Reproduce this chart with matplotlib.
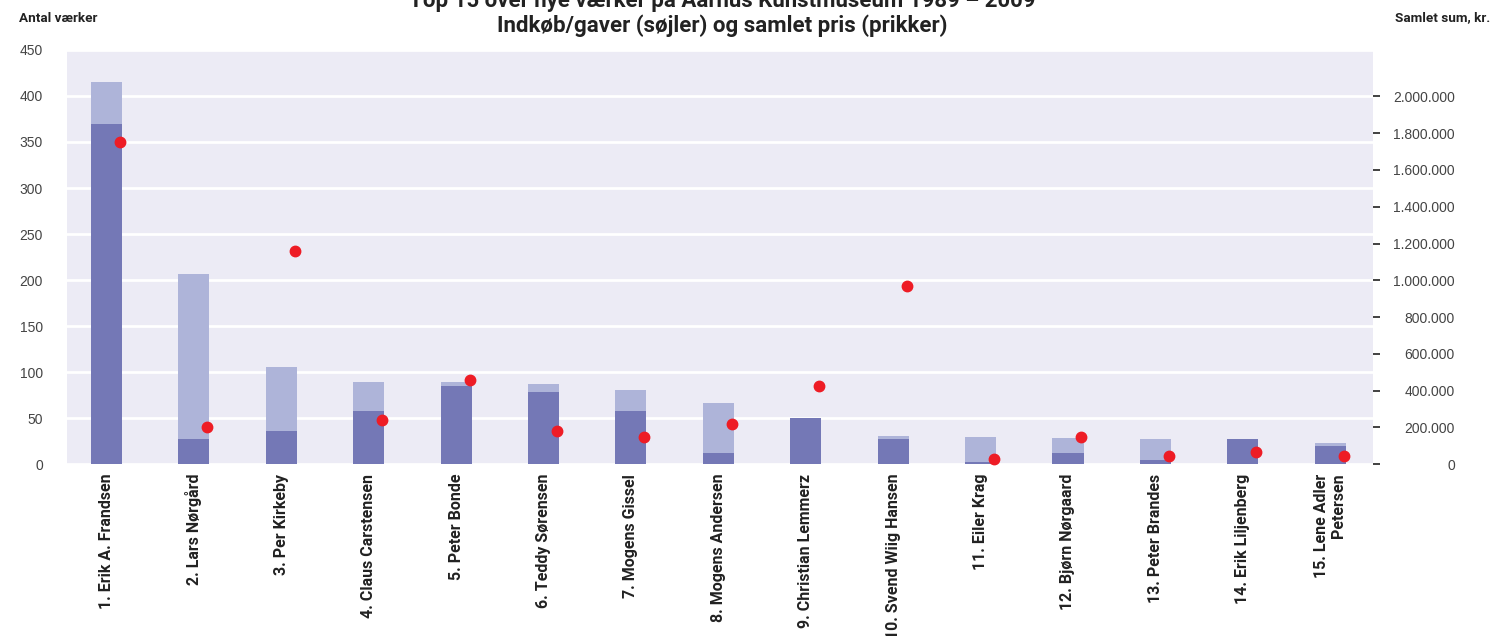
import matplotlib
import matplotlib.pyplot as plt
import numpy as np
from matplotlib.ticker import FuncFormatter

matplotlib.use("Agg")

# Data læst af grafen
kunstnere = [
    "1. Erik A. Frandsen", "2. Lars Nørgård", "3. Per Kirkeby",
    "4. Claus Carstensen", "5. Peter Bonde", "6. Teddy Sørensen",
    "7. Mogens Gissel", "8. Mogens Andersen", "9. Christian Lemmerz",
    "10. Svend Wiig Hansen", "11. Eiler Krag", "12. Bjørn Nørgaard",
    "13. Peter Brandes", "14. Erik Liljenberg", "15. Lene Adler\nPetersen",
]
vaerker_i_alt = [415, 206, 105, 89, 89, 87, 80, 66, 50, 31, 29, 28, 27, 27, 23]
vaerker_indkob = [370, 27, 36, 58, 85, 78, 58, 12, 50, 27, 2, 12, 4, 27, 20]
samlet_pris = [1755000, 200000, 1158000, 238000, 455000, 177000, 145000,
               216000, 422000, 967000, 25000, 145000, 46000, 63000, 46000]

SMAL = ["Roboto", "DejaVu Sans"]
plt.rcParams["font.family"] = ["Liberation Sans", "DejaVu Sans"]

fig = plt.figure(figsize=(14.95, 6.36), dpi=100)
ax = fig.add_axes([0.0446, 0.2704, 0.9184 - 0.0446, 0.9214 - 0.2704])
ax.set_facecolor("#ecebf5")
for s in ax.spines.values():
    s.set_visible(False)

x = np.arange(len(kunstnere))
ax.bar(x, vaerker_i_alt, width=0.356, color="#aeb4d9", zorder=2)
ax.bar(x, vaerker_indkob, width=0.356, color="#7478b6", zorder=3)

ax.set_ylim(0, 450)
ax.set_yticks(np.arange(0, 451, 50))
ax.set_xlim(-0.455, 14.49)
ax.grid(axis="y", color="white", linewidth=2, zorder=1)
ax.set_axisbelow(True)
ax.tick_params(axis="y", length=0, pad=17, labelsize=10, labelcolor="#444444")
ax.set_xticks(x)
ax.set_xticklabels(kunstnere, rotation=90, fontsize=11.5, fontweight="bold",
                   family=SMAL, color="#222222", ha="center", va="top",
                   multialignment="right")
ax.tick_params(axis="x", length=0, pad=7)

# Højre akse: samlet pris
ax2 = ax.twinx()
for s in ax2.spines.values():
    s.set_visible(False)
ax2.plot(x + 0.155, samlet_pris, "o", color="#ee1c25", markersize=7.5,
         zorder=5, clip_on=False)
ax2.set_ylim(0, 2253000)
ax2.set_yticks(np.arange(0, 2000001, 200000))
ax2.yaxis.set_major_formatter(
    FuncFormatter(lambda v, p: f"{int(v):,}".replace(",", ".")))
ax2.tick_params(axis="y", length=5, width=1.3, color="#333333", pad=54,
                labelsize=10, labelcolor="#444444")
for lbl in ax2.get_yticklabels():
    lbl.set_ha("right")

fig.text(19 / 1495, 1 - 18 / 636, "Antal værker", fontsize=9.7,
         fontweight="bold", family=SMAL, color="#222222", va="center",
         ha="left")
fig.text(1490 / 1495, 1 - 18 / 636, "Samlet sum, kr.", fontsize=9.7,
         fontweight="bold", family=SMAL, color="#222222", va="center",
         ha="right")
fig.text(722 / 1495, 1 - 1 / 636,
         "Top 15 over nye værker på Aarhus Kunstmuseum 1989 – 2009",
         fontsize=16, fontweight="bold", family=SMAL, color="#222222",
         ha="center", va="center")
fig.text(722 / 1495, 1 - 26 / 636,
         "Indkøb/gaver (søjler) og samlet pris (prikker)",
         fontsize=16, fontweight="bold", family=SMAL, color="#222222",
         ha="center", va="center")

fig.savefig("out.png", dpi=100)
